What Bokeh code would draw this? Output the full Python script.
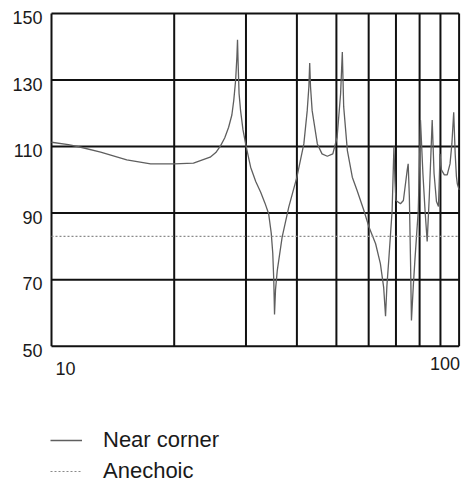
import math
from bokeh.plotting import figure
from bokeh.models import Label, Legend, LegendItem, ColumnDataSource
from bokeh.embed import file_html
from bokeh.resources import INLINE

# ---- data ----
freq = [10.0, 11.0, 11.8, 13.2, 15.3, 17.5, 20.0, 22.3, 24.5, 25.3, 26.0, 26.6, 27.2, 27.7, 28.0, 28.3, 28.5, 28.6,
        28.7, 28.85, 29.1, 29.5, 30.0, 30.8, 31.7, 32.6, 33.4, 34.1, 34.6, 34.9, 35.1, 35.25, 35.45, 35.8, 36.8, 38.2, 40.0,
        41.6, 42.4, 42.8, 43.0, 43.2, 43.6, 44.9, 46.1, 47.5, 49.0, 50.2, 51.2, 51.7, 52.1,
        53.2, 54.7, 56.2, 58.4, 60.1, 62.4, 64.1, 65.3, 66.0, 66.5, 67.2, 68.5, 69.2, 69.6,
        70.0, 71.8, 73.0, 74.6, 75.0, 75.5, 76.0, 76.4, 77.2, 77.9, 79.4, 80.4, 81.5, 82.5,
        83.5, 84.5, 85.9, 86.8, 88.0, 89.0, 89.8, 90.5, 92.0, 93.5, 95.0, 96.0, 97.0, 97.8,
        98.5, 99.0, 100.0]
near_corner = [111.3, 110.6, 109.8, 108.3, 106.0, 104.8, 104.8, 105.0, 106.8, 108.2, 110.3, 112.6, 115.8, 119.5, 123.9, 130.0, 137.0, 142.1,
               135.0, 126.0, 120.8, 115.0, 110.3, 103.8, 99.5, 96.3, 93.0, 89.8, 84.0, 78.0, 70.0, 59.5, 67.0, 72.7, 82.8, 91.8, 100.8,
               110.8, 120.8, 128.0, 135.1, 128.0, 120.8, 110.8, 107.8, 107.1, 107.8, 112.8, 125.9, 138.4, 122.0,
               108.8, 100.8, 96.8, 90.8, 85.8, 80.8, 74.8, 67.7, 59.0, 68.0, 75.8, 90.8, 110.0, 100.0,
               93.8, 92.8, 93.8, 103.0, 104.8, 95.0, 75.8, 57.7, 68.0, 75.8, 90.8, 118.0, 102.0, 90.8,
               81.5, 95.0, 118.0, 102.0, 93.5, 92.0, 107.8, 103.0, 101.5, 101.5, 104.8, 110.8, 120.3, 108.0,
               101.0, 98.8, 97.0]
anechoic_freq = [10.0, 100.0]
anechoic = [83.0, 83.0]

x_grid = [10, 20, 30, 40, 50, 60, 70, 80, 90, 100]
y_ticks = [50, 70, 90, 110, 130, 150]
y_tick_labels = ["50", "70", "90", "110", "130", "150"]
x_tick_values = [10, 100]
x_tick_labels = ["10", "100"]
series_names = ["Near corner", "Anechoic"]

# ---- layout (pixels) ----
W, H = 461, 482
BOX_L, BOX_R, BOX_T, BOX_B = 51, 458.6, 13, 345.7   # plot box inside the figure
X0, X1, Y0, Y1 = 10.0, 100.0, 50.0, 150.0
ppd = (BOX_R - BOX_L) / (math.log10(X1) - math.log10(X0))
x_start = 10 ** (math.log10(X0) - BOX_L / ppd)
x_end = 10 ** (math.log10(X1) + (W - BOX_R) / ppd)
ppu = (BOX_B - BOX_T) / (Y1 - Y0)
y_end = Y1 + BOX_T / ppu
y_start = Y0 - (H - BOX_B) / ppu

FONT = "Liberation Sans"
TXT = "#1a1a1a"

p = figure(width=W, height=H, x_axis_type="log", x_range=(x_start, x_end), y_range=(y_start, y_end),
           x_axis_location=None, y_axis_location=None,
           output_backend="svg", toolbar_location=None,
           min_border_left=0, min_border_right=0, min_border_top=0, min_border_bottom=0)
p.grid.visible = False
p.outline_line_color = None
p.background_fill_color = "white"
p.border_fill_color = "white"

# grid / box lines
p.segment(x0=x_grid, x1=x_grid, y0=[Y0] * len(x_grid), y1=[Y1] * len(x_grid),
          line_color="#111111", line_width=2)
p.segment(x0=[X0] * len(y_ticks), x1=[X1] * len(y_ticks), y0=y_ticks, y1=y_ticks,
          line_color="#111111", line_width=2)

src = ColumnDataSource(dict(x=freq, y=near_corner))
r1 = p.line("x", "y", source=src, line_color="#5f5f5f", line_width=1.3)
src2 = ColumnDataSource(dict(x=anechoic_freq, y=anechoic))
r2 = p.line("x", "y", source=src2, line_color="#8a8a8a", line_width=1.2, line_dash="2 2")

for v, t in zip(y_ticks, y_tick_labels):
    p.add_layout(Label(x=X0, y=v, text=t, x_offset=-9, y_offset=-4,
                       text_align="right", text_baseline="middle",
                       text_font=FONT, text_font_size="18px", text_color=TXT))

aligns = ["left", "right"]
xoffs = [4, 1]
yoffs = [-22, -17]
for v, t, a, xo, yo in zip(x_tick_values, x_tick_labels, aligns, xoffs, yoffs):
    p.add_layout(Label(x=v, y=Y0, text=t, x_offset=xo, y_offset=yo,
                       text_align=a, text_baseline="middle",
                       text_font=FONT, text_font_size="18px", text_color=TXT))

legend = Legend(items=[LegendItem(label=series_names[0], renderers=[r1]),
                       LegendItem(label=series_names[1], renderers=[r2])],
                location=(50, -2), orientation="vertical",
                glyph_width=32, glyph_height=20, label_standoff=21,
                padding=0, margin=0, spacing=5,
                border_line_color=None, background_fill_alpha=0,
                label_text_font=FONT, label_text_font_size="22px", label_text_color=TXT)
p.add_layout(legend, "center")

open("out.html", "w").write(file_html(p, INLINE))
